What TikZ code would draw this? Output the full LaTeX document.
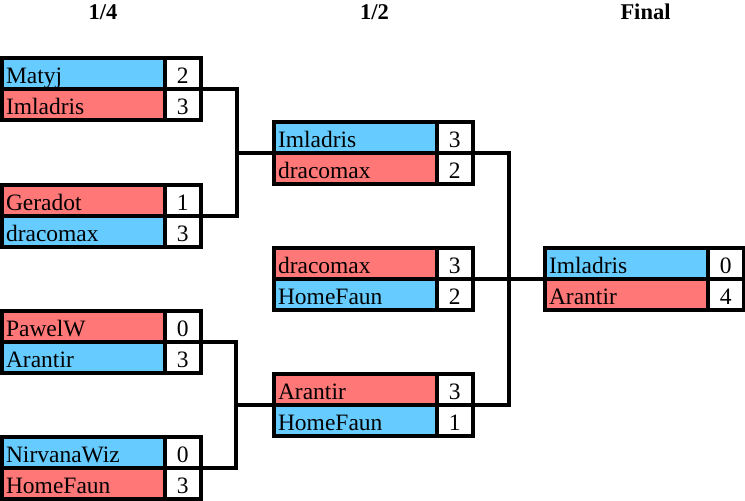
\documentclass[tikz,border=0pt]{standalone}
\usepackage{fontspec}
\setmainfont{Liberation Serif}
\definecolor{pblue}{RGB}{102,204,255}
\definecolor{pred}{RGB}{255,119,119}
\tikzset{
  cellbase/.style={draw=black, line width=4pt, rectangle, inner sep=0pt, outer sep=0pt,
    minimum height=31pt, text height=19pt, text depth=0pt,
    font=\fontsize{23.5}{27}\selectfont},
  namecell/.style={cellbase, minimum width=162.5pt, text width=154.5pt, align=left, inner xsep=4pt},
  scorecell/.style={cellbase, minimum width=36.5pt, fill=white, align=center},
  roundtitle/.style={anchor=base, font=\fontsize{22.5}{27}\selectfont\bfseries},
  wire/.style={draw=black, line width=3.5pt, line join=miter}
}
\newcommand{\bracketmatch}[9]{%
  \node[namecell, fill=#5] (#1a-n) at ({#2+83.25},{#3+17.5}) {#4};
  \node[scorecell] (#1a-s) at ({#2+182.75},{#3+17.5}) {#6};
  \node[namecell, fill=#8] (#1b-n) at ({#2+83.25},{#3+48.5}) {#7};
  \node[scorecell] (#1b-s) at ({#2+182.75},{#3+48.5}) {#9};
}
\begin{document}
\begin{tikzpicture}[x=1pt, y=-1pt]
\useasboundingbox (0,0) rectangle (745,501);
\node[roundtitle] (t1) at (103,19) {1/4};
\node[roundtitle] (t2) at (374.5,19) {1/2};
\node[roundtitle] (t3) at (645.5,19) {Final};
\coordinate (j1) at (237,153);
\coordinate (j2) at (236,405);
\coordinate (j3) at (509,279);
\bracketmatch{q1}{0}{56}{Matyj}{pblue}{2}{Imladris}{pred}{3}
\bracketmatch{q2}{0}{183}{Geradot}{pred}{1}{dracomax}{pblue}{3}
\bracketmatch{q3}{0}{309}{PawelW}{pred}{0}{Arantir}{pblue}{3}
\bracketmatch{q4}{0}{435}{NirvanaWiz}{pblue}{0}{HomeFaun}{pred}{3}
\bracketmatch{s1}{272}{120}{Imladris}{pblue}{3}{dracomax}{pred}{2}
\bracketmatch{s2}{272}{246}{dracomax}{pred}{3}{HomeFaun}{pblue}{2}
\bracketmatch{s3}{272}{372}{Arantir}{pred}{3}{HomeFaun}{pblue}{1}
\bracketmatch{f1}{543}{246}{Imladris}{pblue}{0}{Arantir}{pred}{4}
\draw[wire] (q1a-s.south east) -| (j1) |- (q2a-s.south east);
\draw[wire] (j1) -- (s1a-n.south west);
\draw[wire] (q3a-s.south east) -| (j2) |- (q4a-s.south east);
\draw[wire] (j2) -- (s3a-n.south west);
\draw[wire] (s1a-s.south east) -| (j3) |- (s3a-s.south east);
\draw[wire] (s2a-s.south east) -- (j3) -- (f1a-n.south west);
\end{tikzpicture}
\end{document}
